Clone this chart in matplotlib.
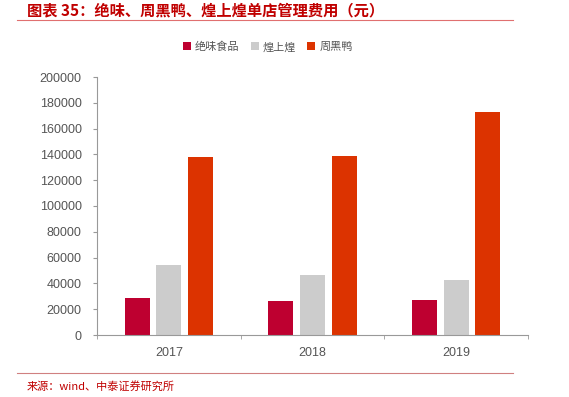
import matplotlib
matplotlib.use("Agg")
import matplotlib.pyplot as plt
import numpy as np
from matplotlib.lines import Line2D

plt.rcParams['font.family'] = ['Noto Sans CJK SC', 'DejaVu Sans']

years = ['2017', '2018', '2019']
series_names = ['绝味食品', '煌上煌', '周黑鸭']
juewei = [28900, 26100, 27000]
huangshanghuang = [54000, 46700, 42600]
zhouheiya = [138000, 138500, 172500]
colors = ['#BE0030', '#CCCCCC', '#DC3300']

fig = plt.figure(figsize=(5.69, 3.97), dpi=100)
ax = fig.add_axes([97/569, 1-335/397, (528-97)/569, (335-77)/397])

x = np.arange(len(years))
w = 0.175
step = 0.22
for i, (vals, c, n) in enumerate(zip([juewei, huangshanghuang, zhouheiya], colors, series_names)):
    ax.bar(x + (i-1)*step, vals, width=w, color=c, label=n, zorder=2)

ax.set_xlim(-0.5, 2.5)
ax.set_ylim(0, 200000)
ax.set_yticks(np.arange(0, 200001, 20000))
ax.set_yticklabels([str(v) for v in range(0, 200001, 20000)], fontsize=9, color='#555555', family='Liberation Sans')
ax.set_xticks(x)
ax.set_xticklabels(years, fontsize=9, color='#555555', family='Liberation Sans')
ax.set_xticks([-0.5, 0.5, 1.5, 2.5], minor=True)
ax.tick_params(axis='x', which='major', length=0, pad=9)
ax.tick_params(axis='x', which='minor', length=3, color='#999999')
ax.tick_params(axis='y', length=3, color='#999999', pad=8)
for s in ['top', 'right']:
    ax.spines[s].set_visible(False)
ax.spines['bottom'].set_color('#999999')
ax.spines['left'].set_color('#999999')

leg = fig.legend(loc='center', bbox_to_anchor=(268/569, 1-47/397), ncol=3, frameon=False,
                 fontsize=8, handlelength=0.7, handleheight=0.7, handletextpad=0.4, columnspacing=1.0)
for t in leg.get_texts():
    t.set_color('#555555')

fig.text(27/569, 1-10/397, '图表 35：绝味、周黑鸭、煌上煌单店管理费用（元）', fontsize=11, fontweight='bold',
         color='#C00000', va='center', ha='left', style='italic')
fig.add_artist(Line2D([17/569, 513/569], [1-20/397, 1-20/397], color='#E07070', lw=0.8))
fig.add_artist(Line2D([17/569, 513/569], [1-373/397, 1-373/397], color='#D08080', lw=0.8))
fig.text(27/569, 1-386/397, '来源：wind、中泰证券研究所', fontsize=8, color='#C00000', va='center', ha='left')

fig.savefig('out.png', dpi=100)
